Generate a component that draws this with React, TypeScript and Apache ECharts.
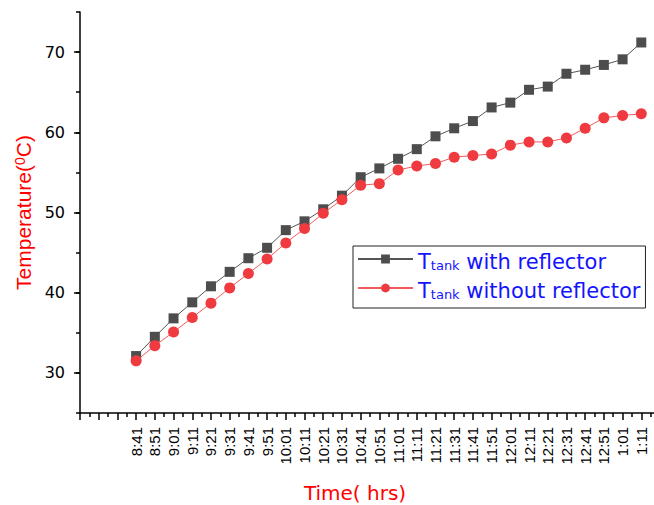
import React, { useEffect, useRef } from "react";
import * as echarts from "echarts";

const timeLabels = [
  "8:41", "8:51", "9:01", "9:11", "9:21", "9:31", "9:41", "9:51",
  "10:01", "10:11", "10:21", "10:31", "10:41", "10:51", "11:01", "11:11",
  "11:21", "11:31", "11:41", "11:51", "12:01", "12:11", "12:21", "12:31",
  "12:41", "12:51", "1:01", "1:11",
];

const withReflector = [
  32.1, 34.5, 36.8, 38.8, 40.8, 42.6, 44.3, 45.6, 47.8, 48.9, 50.4, 52.1,
  54.4, 55.5, 56.7, 57.9, 59.5, 60.5, 61.4, 63.1, 63.7, 65.3, 65.7, 67.3,
  67.8, 68.4, 69.1, 71.2,
];

const withoutReflector = [
  31.5, 33.4, 35.1, 36.9, 38.7, 40.6, 42.4, 44.2, 46.2, 48.0, 49.9, 51.6,
  53.4, 53.6, 55.3, 55.8, 56.1, 56.9, 57.1, 57.3, 58.4, 58.8, 58.8, 59.3,
  60.5, 61.8, 62.1, 62.3,
];

const yMajorTicks = [30, 40, 50, 60, 70];

const GRID_LEFT = 80;
const GRID_RIGHT = -6;
const CHART_W = 654;

export default function App() {
  const ref = useRef<HTMLDivElement>(null);
  useEffect(() => {
    if (!ref.current) return;
    const chart = echarts.init(ref.current, null, { renderer: "svg" });
    const red = "#ff0000";
    chart.setOption({
      animation: false,
      backgroundColor: "#ffffff",
      grid: {
        left: GRID_LEFT,
        right: GRID_RIGHT,
        top: 12,
        bottom: 92,
        containLabel: false,
        outerBoundsMode: "none",
      },
      legend: {
        left: 353,
        top: 246,
        orient: "vertical",
        itemWidth: 55,
        itemHeight: 11,
        itemGap: 8,
        padding: [5, 5, 7, 4],
        borderColor: "#222",
        borderWidth: 1,
        selectedMode: false,
        data: ["with", "without"],
        formatter: (name: string) =>
          name === "with"
            ? "{a|T}{b|tank}{a| with reflector}"
            : "{a|T}{b|tank}{a| without reflector}",
        textStyle: {
          color: "#1414ff",
          rich: {
            a: {
              fontFamily: "DejaVu Sans",
              fontSize: 21,
              color: "#1414ff",
              lineHeight: 26,
              verticalAlign: "bottom",
            },
            b: {
              fontFamily: "DejaVu Sans",
              fontSize: 13,
              color: "#1414ff",
              lineHeight: 11,
              verticalAlign: "bottom",
            },
          },
        },
      },
      xAxis: {
        type: "value",
        min: -3,
        max: 28,
        interval: 1,
        splitLine: { show: false },
        axisLine: { show: true, onZero: false, lineStyle: { color: "#000", width: 1.5 } },
        axisTick: { show: true, length: 7, lineStyle: { color: "#000", width: 1.5 } },
        minorTick: { show: true, splitNumber: 2, length: 4, lineStyle: { color: "#000", width: 1.5 } },
        axisLabel: {
          rotate: 90,
          margin: 14,
          fontFamily: "Liberation Sans",
          fontSize: 15,
          color: "#000",
          formatter: (v: number) => {
            const i = Math.round(v);
            return i >= 0 && i < timeLabels.length ? timeLabels[i] : "";
          },
        },
        name: "Time( hrs)",
        nameLocation: "middle",
        nameGap: 70,
        nameTextStyle: {
          fontFamily: "DejaVu Sans",
          fontSize: 20,
          color: red,
          padding: [0, 30, 0, 0],
        },
      },
      yAxis: [
        {
          type: "value",
          min: 25,
          max: 75,
          interval: 5,
          position: "left",
          splitLine: { show: false },
          axisLine: { show: true, onZero: false, lineStyle: { color: "#000", width: 1.5 } },
          axisTick: { show: true, length: 4, lineStyle: { color: "#000", width: 1.5 } },
          axisLabel: {
            margin: 15,
            fontFamily: "DejaVu Sans",
            fontSize: 16,
            color: "#000",
            formatter: (v: number) => (v % 10 === 0 ? String(v) : ""),
          },
          name: "{a|Temperature(}{s|0}{a|C)}",
          nameLocation: "middle",
          nameGap: 40,
          nameTextStyle: {
            color: red,
            rich: {
              a: { fontFamily: "Liberation Sans", fontSize: 21, color: red, lineHeight: 26, verticalAlign: "top" },
              s: { fontFamily: "Liberation Sans", fontSize: 14, color: red, lineHeight: 14, verticalAlign: "top" },
            },
          },
        },
        {
          type: "value",
          min: 25,
          max: 75,
          position: "right",
          offset: GRID_LEFT + GRID_RIGHT - CHART_W,
          splitLine: { show: false },
          axisLine: { show: false, onZero: false },
          axisTick: {
            show: true,
            inside: true,
            length: 6,
            customValues: yMajorTicks,
            lineStyle: { color: "#000", width: 1.5 },
          },
          axisLabel: { show: false },
        },
      ],
      series: [
        {
          name: "with",
          type: "line",
          yAxisIndex: 0,
          symbol: "rect",
          symbolSize: 10,
          itemStyle: { color: "#4d4d4d" },
          lineStyle: { color: "#555555", width: 1 },
          data: withReflector.map((v, i) => [i, v]),
          z: 2,
        },
        {
          name: "without",
          type: "line",
          yAxisIndex: 0,
          symbol: "circle",
          symbolSize: 11,
          itemStyle: { color: "#ef3b40" },
          lineStyle: { color: "#f25a5e", width: 1 },
          data: withoutReflector.map((v, i) => [i, v]),
          z: 3,
        },
      ],
    });
    return () => chart.dispose();
  }, []);
  return (
    <div
      ref={ref}
      style={{ position: "absolute", left: 0, top: 0, width: CHART_W, height: 505 }}
    />
  );
}
